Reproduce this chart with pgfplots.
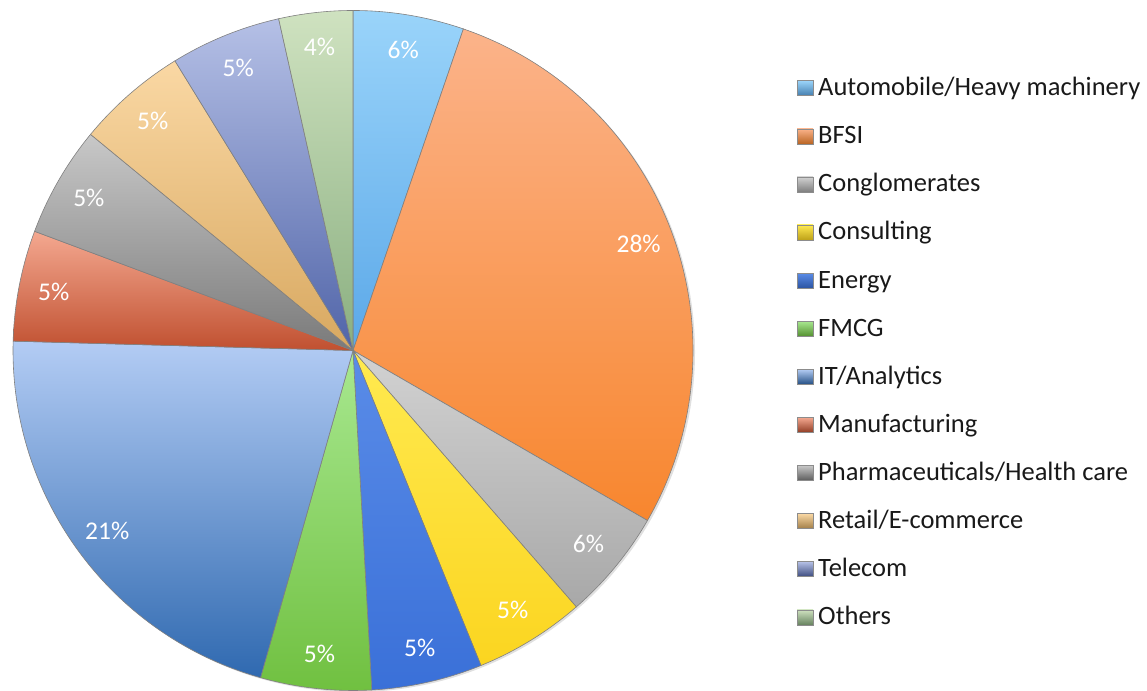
\documentclass[border=0pt]{standalone}
\usepackage{pgfplots}
\pgfplotsset{compat=1.18}
\usepackage{pgfplotstable}
\usepackage{fontspec}
\setmainfont{Carlito}

\definecolor{c0t}{HTML}{9AD4FA}\definecolor{c0b}{HTML}{5BA8E8}
\definecolor{c1t}{HTML}{FBB38A}\definecolor{c1b}{HTML}{F8862E}
\definecolor{c2t}{HTML}{D2D2D2}\definecolor{c2b}{HTML}{A8A8A8}
\definecolor{c3t}{HTML}{FFEA50}\definecolor{c3b}{HTML}{FBD520}
\definecolor{c4t}{HTML}{5A8CE8}\definecolor{c4b}{HTML}{3A70D8}
\definecolor{c5t}{HTML}{A8E890}\definecolor{c5b}{HTML}{70C040}
\definecolor{c6t}{HTML}{B3CCF4}\definecolor{c6b}{HTML}{2F69B0}
\definecolor{c7t}{HTML}{F4A890}\definecolor{c7b}{HTML}{C05030}
\definecolor{c8t}{HTML}{C8C8C8}\definecolor{c8b}{HTML}{7A7A7A}
\definecolor{c9t}{HTML}{FAD8A4}\definecolor{c9b}{HTML}{D8A860}
\definecolor{c10t}{HTML}{B5C0E6}\definecolor{c10b}{HTML}{5064A8}
\definecolor{c11t}{HTML}{CFE2C0}\definecolor{c11b}{HTML}{8AAF80}

\pgfplotstableread[col sep=comma]{
name,count,label
Automobile/Heavy machinery,3,6
BFSI,16,28
Conglomerates,3,6
Consulting,3,5
Energy,3,5
FMCG,3,5
IT/Analytics,12,21
Manufacturing,3,5
Pharmaceuticals/Health care,3,5
Retail/E-commerce,3,5
Telecom,3,5
Others,2,4
}\piedata

\begin{document}
\begin{tikzpicture}
\begin{axis}[x=1bp,y=1bp,xmin=0,xmax=1147,ymin=0,ymax=691,hide axis,clip=false,scale only axis]
\pgfplotsextra{%
  \def\tot{57}%
  \def\cum{0}%
  \fill[black!12] (axis cs:355,339) circle[radius=340bp];
  \pgfplotsforeachungrouped \i in {0,...,11}{%
    \pgfplotstablegetelem{\i}{count}\of\piedata \let\cnt\pgfplotsretval
    \pgfplotstablegetelem{\i}{name}\of\piedata \let\nam\pgfplotsretval
    \pgfmathsetmacro\a{90-\cum/\tot*360}%
    \pgfmathsetmacro\b{90-(\cum+\cnt)/\tot*360}%
    \edef\ct{c\i t}\edef\cb{c\i b}%
    \shade[top color=\ct, bottom color=\cb, draw=black!50, line width=0.6bp]
      (axis cs:353,340.5) -- ++(\a:340bp) arc[start angle=\a, end angle=\b, radius=340bp] -- cycle;
    \pgfmathsetmacro\yb{691-95.7-48.1*\i}%
    \pgfmathsetmacro\yt{\yb+15}%
    \shade[top color=\ct, bottom color=\cb!75!black, draw=black!45, line width=0.4bp]
      (axis cs:797,\yb) rectangle (axis cs:813,\yt);
    \node[anchor=base west, inner sep=0pt, text=black!90, font=\fontsize{26.5bp}{30bp}\selectfont] at (axis cs:818,\yb) {\nam};
    \pgfmathsetmacro\cum{\cum+\cnt}%
  }%
  \def\cum{0}%
  \pgfplotsforeachungrouped \i in {0,...,11}{%
    \pgfplotstablegetelem{\i}{count}\of\piedata \let\cnt\pgfplotsretval
    \pgfplotstablegetelem{\i}{label}\of\piedata \let\lab\pgfplotsretval
    \pgfmathsetmacro\m{90-(\cum+\cnt/2)/\tot*360}%
    \path (axis cs:353,340.5) ++(\m:305bp) node[text=white, inner sep=0pt, font=\fontsize{25.5bp}{30bp}\selectfont] {\lab\%};
    \pgfmathsetmacro\cum{\cum+\cnt}%
  }%
}
\end{axis}
\pgfresetboundingbox
\path (current axis.south west) rectangle (current axis.north east);
\end{tikzpicture}
\end{document}
